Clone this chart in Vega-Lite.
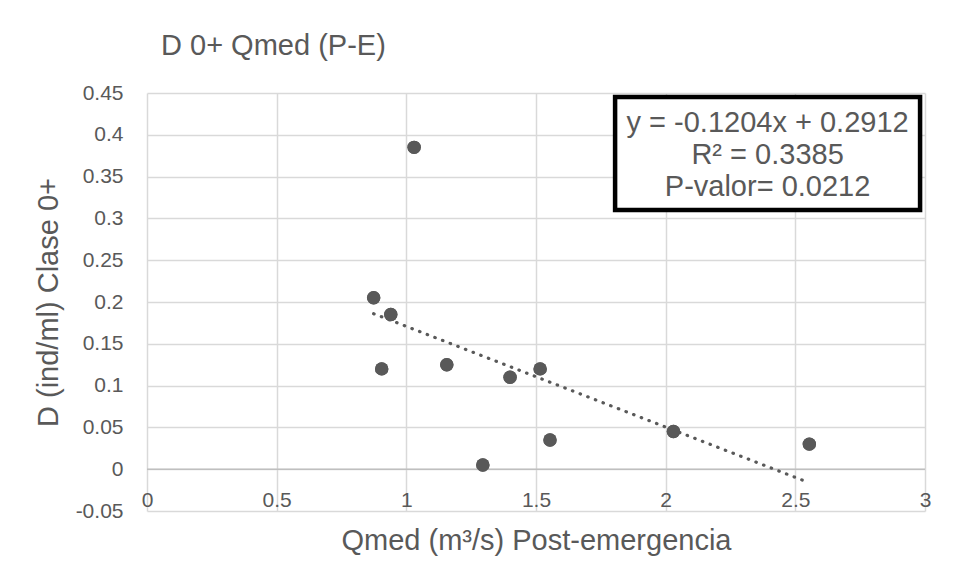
{
  "$schema": "https://vega.github.io/schema/vega-lite/v6.json",
  "width": 778,
  "height": 418,
  "autosize": "none",
  "padding": {"left": 147, "top": 93, "right": 31, "bottom": 66},
  "background": "white",
  "config": {"view": {"stroke": null}},
  "title": {
    "text": "D 0+ Qmed (P-E)",
    "anchor": "start",
    "frame": "group",
    "dx": 14,
    "offset": 21,
    "font": "Liberation Sans",
    "fontSize": 29,
    "fontWeight": "normal",
    "color": "#595959"
  },
  "datasets": {
    "points": [
      {"q": 1.03, "d": 0.385},
      {"q": 0.874, "d": 0.205},
      {"q": 0.94, "d": 0.185},
      {"q": 0.905, "d": 0.12},
      {"q": 1.156, "d": 0.125},
      {"q": 1.4, "d": 0.11},
      {"q": 1.516, "d": 0.12},
      {"q": 1.554, "d": 0.035},
      {"q": 1.295, "d": 0.005},
      {"q": 2.03, "d": 0.045},
      {"q": 2.554, "d": 0.03}
    ],
    "trend": [
      {"q": 0.874, "d": 0.186},
      {"q": 2.554, "d": -0.0163}
    ],
    "blank": [{}]
  },
  "layer": [
    {
      "data": {"name": "points"},
      "mark": {"type": "circle", "size": 180, "color": "#595959", "opacity": 1},
      "encoding": {
        "x": {
          "field": "q",
          "type": "quantitative",
          "scale": {"domain": [0, 3], "nice": false, "zero": false},
          "axis": {
            "values": [0, 0.5, 1, 1.5, 2, 2.5, 3],
            "format": "~g",
            "title": "Qmed (m³/s) Post-emergencia",
            "grid": true,
            "gridColor": "#d9d9d9",
            "gridWidth": 1.5,
            "domain": false,
            "ticks": false,
            "tickSize": 0,
            "labelPadding": -11,
            "labelBaseline": "middle",
            "labelFlush": false,
            "labelOverlap": false,
            "labelBound": false,
            "labelFont": "Liberation Sans",
            "labelFontSize": 21,
            "labelColor": "#595959",
            "titleFont": "Liberation Sans",
            "titleFontSize": 29,
            "titleFontWeight": "normal",
            "titleColor": "#595959",
            "titlePadding": 15
          }
        },
        "y": {
          "field": "d",
          "type": "quantitative",
          "scale": {"domain": [-0.05, 0.45], "nice": false, "zero": false},
          "axis": {
            "values": [-0.05, 0, 0.05, 0.1, 0.15, 0.2, 0.25, 0.3, 0.35, 0.4, 0.45],
            "labelExpr": "datum.value < -0.001 ? '-' + format(-datum.value, '.2~f') : format(abs(datum.value) < 0.001 ? 0 : datum.value, '.2~f')",
            "title": "D (ind/ml) Clase 0+",
            "grid": true,
            "gridColor": "#d9d9d9",
            "gridWidth": 1.5,
            "domain": false,
            "ticks": false,
            "tickSize": 0,
            "labelPadding": 24,
            "labelFlush": false,
            "labelOverlap": false,
            "labelBound": false,
            "labelFont": "Liberation Sans",
            "labelFontSize": 21,
            "labelColor": "#595959",
            "titleFont": "Liberation Sans",
            "titleFontSize": 29,
            "titleFontWeight": "normal",
            "titleColor": "#595959",
            "titlePadding": 12
          }
        }
      }
    },
    {
      "data": {"name": "blank"},
      "mark": {"type": "rule", "color": "#bfbfbf", "strokeWidth": 1.5},
      "encoding": {"y": {"datum": 0}}
    },
    {
      "data": {"name": "trend"},
      "mark": {"type": "line", "color": "#595959", "strokeWidth": 3.2, "strokeDash": [0.5, 7.7], "strokeCap": "round"},
      "encoding": {
        "x": {"field": "q", "type": "quantitative"},
        "y": {"field": "d", "type": "quantitative"}
      }
    },
    {
      "data": {"name": "points"},
      "mark": {"type": "circle", "size": 180, "color": "#595959", "opacity": 1},
      "encoding": {
        "x": {"field": "q", "type": "quantitative"},
        "y": {"field": "d", "type": "quantitative"}
      }
    },
    {
      "data": {"name": "blank"},
      "mark": {"type": "rect", "fill": "white", "stroke": "black", "strokeWidth": 4.5},
      "encoding": {
        "x": {"datum": 1.805},
        "x2": {"datum": 2.981},
        "y": {"datum": 0.4452},
        "y2": {"datum": 0.31}
      }
    },
    {
      "data": {"name": "blank"},
      "mark": {
        "type": "text",
        "text": ["y = -0.1204x + 0.2912", "R² = 0.3385", "P-valor= 0.0212"],
        "lineHeight": 32,
        "align": "center",
        "baseline": "middle",
        "font": "Liberation Sans",
        "fontSize": 29,
        "color": "#595959"
      },
      "encoding": {
        "x": {"datum": 2.393},
        "y": {"datum": 0.4141}
      }
    }
  ]
}
